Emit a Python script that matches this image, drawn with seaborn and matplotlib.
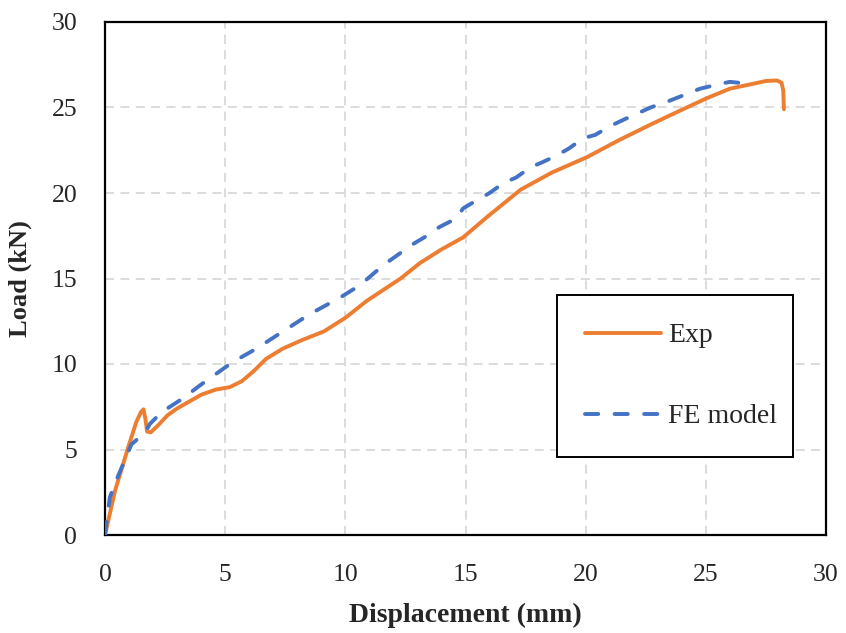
import numpy as np
import pandas as pd
import matplotlib
matplotlib.use("Agg")
import matplotlib.pyplot as plt
import seaborn as sns

# Experimental curve (displacement mm, load kN)
exp_disp = [0, 0.42, 0.97, 1.3, 1.5, 1.6, 1.68, 1.75, 1.9, 2.2, 2.6, 3.0, 3.5, 4.0, 4.6,
            5.2, 5.7, 6.2, 6.7, 7.4, 8.2, 9.1, 10.0, 10.9, 12.3, 13.1, 14.0, 14.9, 15.4,
            15.9, 17.3, 18.6, 20.06, 21.4, 22.7, 23.9, 25.05, 26.0, 26.84, 27.5, 27.96,
            28.15, 28.22, 28.25]
exp_load = [0, 2.6, 5.15, 6.6, 7.2, 7.35, 6.8, 6.05, 6.0, 6.4, 7.0, 7.4, 7.8, 8.2, 8.5,
            8.65, 9.0, 9.6, 10.3, 10.9, 11.4, 11.9, 12.7, 13.7, 15.0, 15.9, 16.7, 17.4, 18.0,
            18.6, 20.2, 21.2, 22.1, 23.1, 24.0, 24.8, 25.55, 26.1, 26.35, 26.55, 26.58,
            26.45, 26.0, 24.9]

# FE model curve
fe_disp = [0, 0.05, 0.12, 0.2, 0.53, 0.83, 1.1, 1.67, 1.87, 2.37, 3.2, 4.0, 4.4, 5.3, 6.3,
           7.4, 8.5, 9.8, 10.6, 11.6, 12.8, 13.4, 13.9, 14.6, 14.9, 15.5, 16.0, 16.6, 17.1,
           17.7, 18.2, 18.8, 19.3, 19.9, 20.4, 21.0, 21.6, 22.7, 23.5, 24.76, 25.5, 26.0, 26.35]
fe_load = [0, 0.6, 1.3, 2.2, 3.4, 4.4, 5.3, 6.0, 6.5, 7.2, 7.95, 8.8, 9.2, 10.1, 10.9,
           11.9, 12.9, 13.9, 14.6, 15.8, 17.0, 17.5, 18.0, 18.5, 19.1, 19.6, 20.0, 20.6, 20.9,
           21.5, 21.8, 22.2, 22.6, 23.2, 23.4, 23.9, 24.3, 25.0, 25.4, 26.1, 26.35, 26.5, 26.45]

ticks = [0, 5, 10, 15, 20, 25, 30]

sns.set_style("white")
plt.rcParams['font.family'] = ['Liberation Serif', 'DejaVu Serif']

fig = plt.figure(figsize=(8.46, 6.33), dpi=100)
ax = fig.add_axes([105/846, 1-535/633, (826-105)/846, (535-22)/633])

exp_df = pd.DataFrame({"x": exp_disp, "y": exp_load})
fe_df = pd.DataFrame({"x": fe_disp, "y": fe_load})

LW = 2.8
DASH = (3.4, 4.2)

sns.lineplot(data=exp_df, x="x", y="y", ax=ax, sort=False, estimator=None,
             color="#ED7D31", linewidth=LW, label="Exp", zorder=3)
sns.lineplot(data=fe_df, x="x", y="y", ax=ax, sort=False, estimator=None,
             color="#4472C4", linewidth=LW, label="FE model", zorder=4,
             dashes=False)
fe_line = ax.lines[-1]
fe_line.set_dashes(DASH)
fe_line.set_dash_capstyle("round")
ax.lines[0].set_solid_capstyle("round")
ax.lines[0].set_solid_joinstyle("round")

ax.set_xlim(0, 30)
ax.set_ylim(0, 30)
ax.set_xticks(ticks)
ax.set_yticks(ticks)
ax.set_xticklabels([str(t) for t in ticks])
ax.set_yticklabels([str(t) for t in ticks])
ax.tick_params(axis="both", length=0, labelsize=18.5)
ax.tick_params(axis="x", pad=21)
ax.tick_params(axis="y", pad=20)

ax.grid(True, color="#D9D9D9", linestyle=(0, (5, 3.5)), linewidth=1.3, zorder=0)
ax.set_axisbelow(True)
for s in ax.spines.values():
    s.set_visible(True)
    s.set_color("black")
    s.set_linewidth(1.6)

ax.set_xlabel("Displacement (mm)", fontsize=20, fontweight="bold", labelpad=12)
ax.set_ylabel("Load (kN)", fontsize=19, fontweight="bold", labelpad=14)

leg = ax.legend(loc="lower left", bbox_to_anchor=(0.627, 0.152, 0.327, 0.314),
                mode="expand", borderaxespad=0, fontsize=20, handlelength=2.75,
                labelspacing=2.0, borderpad=1.0, handletextpad=0.25,
                frameon=True, fancybox=False, framealpha=1)
leg.get_frame().set_edgecolor("black")
leg.get_frame().set_linewidth(1.4)
for h in leg.get_lines():
    h.set_linewidth(LW)
leg.get_lines()[1].set_dashes(DASH)
leg.get_lines()[1].set_dash_capstyle("round")

fig.savefig("out.png", dpi=100)
